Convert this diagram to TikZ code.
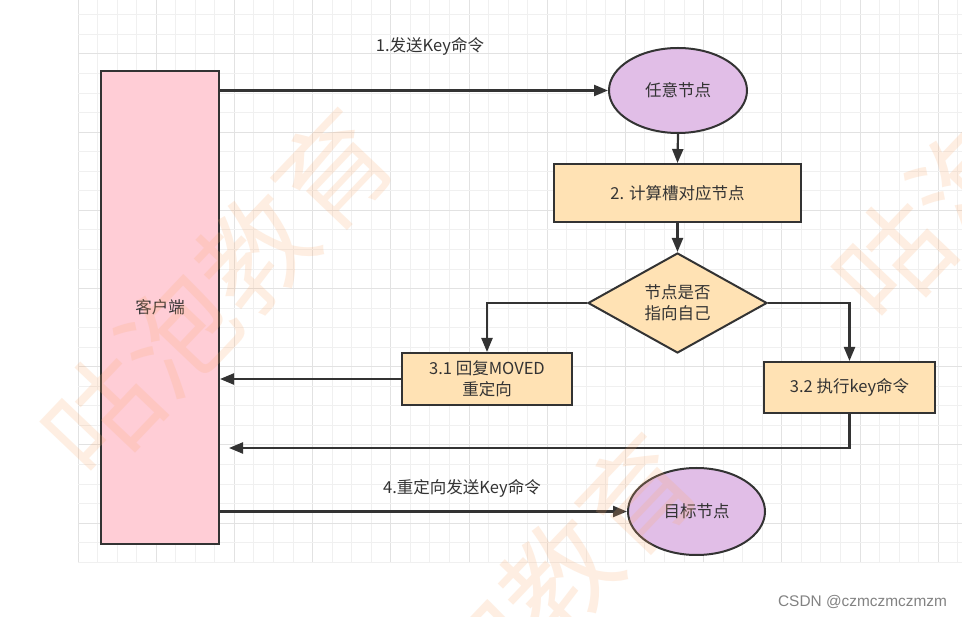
\documentclass[tikz,border=0pt]{standalone}
\usepackage{fontspec}
\setmainfont{Noto Sans CJK SC}
\newfontfamily\cjkfont{Noto Sans CJK SC}
\newfontfamily\csdnfont{Liberation Sans}
\usetikzlibrary{shapes.geometric,arrows.meta}

\definecolor{pinkfill}{RGB}{255,205,214}
\definecolor{lavfill}{RGB}{225,190,231}
\definecolor{orfill}{RGB}{255,226,180}
\definecolor{strokec}{RGB}{51,51,51}
\definecolor{textc}{RGB}{51,51,51}
\definecolor{gridminor}{RGB}{240,240,240}
\definecolor{gridmajor}{RGB}{226,226,226}
\definecolor{wmcolor}{RGB}{250,170,110}
\definecolor{csdnc}{RGB}{130,130,130}

\tikzset{
  box/.style={draw=strokec, line width=2pt, inner sep=0pt, text=textc,
    font=\cjkfont\fontsize{16.5}{21}\selectfont, align=center},
  clientbox/.style={box, rectangle, fill=pinkfill},
  stepbox/.style={box, rectangle, fill=orfill},
  oval/.style={box, ellipse, fill=lavfill},
  decision/.style={box, diamond, fill=orfill},
  plain/.style={inner sep=0pt, text=textc, font=\cjkfont\fontsize{16.5}{21}\selectfont, align=center},
  arr/.style={draw=strokec, line width=2.2pt, -{Triangle[length=14pt,width=11pt]}},
  wm/.style={inner sep=0pt, text=wmcolor, opacity=0.2, rotate=46.4,
    font=\cjkfont\fontsize{112}{112}\selectfont},
}

\begin{document}
\begin{tikzpicture}[x=1pt,y=-1pt]
\clip (0,0) rectangle (962,617);
\fill[white] (0,0) rectangle (962,617);

% grid
\foreach \k in {0,...,45} {
  \pgfmathsetmacro\xx{78+19.55*\k}
  \pgfmathtruncatemacro\mm{mod(\k,4)}
  \ifnum\mm=0
    \draw[gridmajor, line width=1pt] (\xx,0) -- (\xx,563);
  \else
    \draw[gridminor, line width=1pt] (\xx,0) -- (\xx,563);
  \fi
}
\foreach \k in {-2,...,26} {
  \pgfmathsetmacro\yy{54+19.55*\k}
  \pgfmathtruncatemacro\mm{mod(\k+8,4)}
  \ifnum\mm=0
    \draw[gridmajor, line width=1pt] (78,\yy) -- (962,\yy);
  \else
    \draw[gridminor, line width=1pt] (78,\yy) -- (962,\yy);
  \fi
}

% nodes
\node[clientbox, minimum width=118pt, minimum height=473pt] (client) at (160,307.5) {客户端};
\node[oval, minimum width=138pt, minimum height=85pt] (any) at (678,90.5) {任意节点};
\node[stepbox, minimum width=247pt, minimum height=58pt] (calc) at (677.5,193) {2. 计算槽对应节点};
\node[decision, minimum width=179pt, minimum height=100pt] (dec) at (677.5,303) {};
\node[plain] (dectext) at (dec) {节点是否\\指向自己};
\node[stepbox, minimum width=170pt, minimum height=52pt] (moved) at (487,379) {3.1 回复MOVED\\重定向};
\node[stepbox, minimum width=171pt, minimum height=51pt] (exec) at (849.5,387.5) {3.2 执行key命令};
\node[oval, minimum width=137pt, minimum height=87pt] (target) at (696.5,511.5) {目标节点};

\node[plain] (lab1) at (430,46) {1.发送Key命令};
\node[plain] (lab4) at (462,488) {4.重定向发送Key命令};

\coordinate (ret) at (229,448);

% connectors
\draw[arr] (client.east |- any.west) -- (any.west);
\draw[arr] (any.south) -- (calc.north);
\draw[arr] (calc.south) -- (dec.north);
\draw[arr] (dec.west) -| (moved.north);
\draw[arr] (dec.east) -| (exec.north);
\draw[arr] (moved.west) -- (client.east |- moved.west);
\draw[arr] (exec.south) |- (ret);
\draw[arr] (client.east |- target.west) -- (target.west);

% watermark
\node[wm] (wm1) at (217,292.5) {咕泡教育};
\node[wm] (wm2) at (1008,137.5) {咕泡教育};
\node[wm] (wm3) at (521,617.5) {咕泡教育};

% credit
\node[inner sep=0pt, text=csdnc, font=\csdnfont\fontsize{15.4}{18}\selectfont] (csdn) at (862.5,602) {CSDN @czmczmczmzm};
\end{tikzpicture}
\end{document}
